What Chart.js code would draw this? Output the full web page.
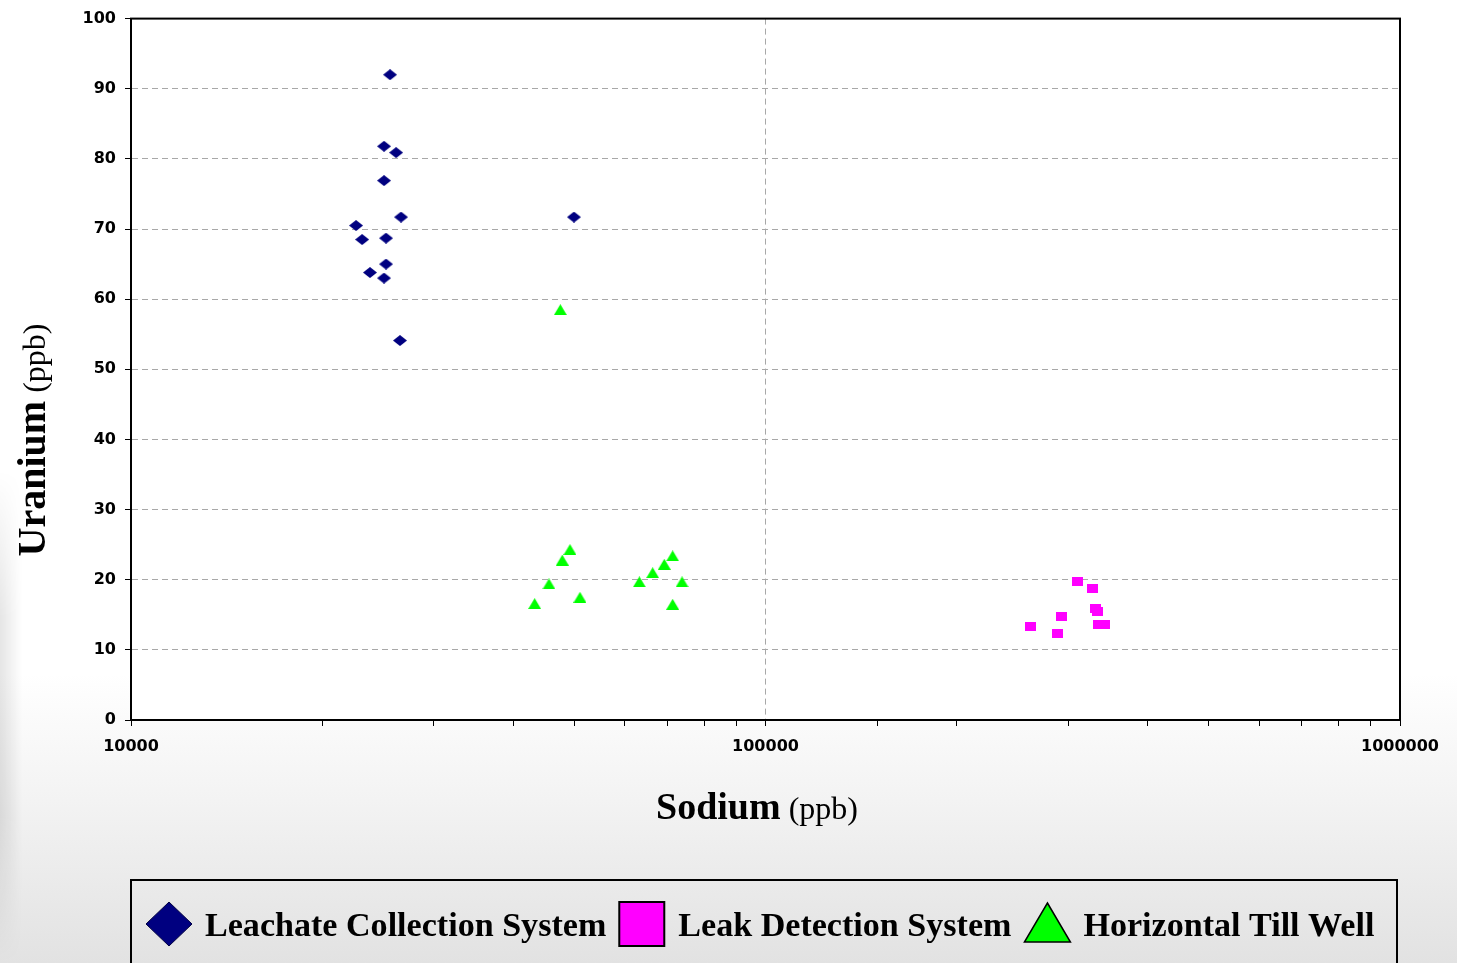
<!DOCTYPE html>
<html>
<head>
<meta charset="utf-8">
<script src="https://cdn.jsdelivr.net/npm/chart.js@4.4.1/dist/chart.umd.min.js"></script>
<style>
    html, body {
        margin: 0;
        padding: 0;
        overflow: hidden;
    }
    body {
        width: 1457px;
        height: 963px;
        background: linear-gradient(to bottom, #ffffff 0%, #ffffff 70%, #f4f4f4 82%, #e2e2e2 100%);
        position: relative;
    }
    .sombra {
        position: absolute;
        left: 0;
        top: 470px;
        width: 22px;
        height: 493px;
        background: linear-gradient(to right, rgba(0, 0, 0, 0.10), rgba(0, 0, 0, 0));
        -webkit-mask-image: linear-gradient(to bottom, transparent, black 30%, black 70%, transparent);
        mask-image: linear-gradient(to bottom, transparent, black 30%, black 70%, transparent);
    }
    .contenedor {
        position: absolute;
        left: 0;
        top: 0;
        width: 1457px;
        height: 963px;
    }
</style>
</head>
<body>
<div class="sombra"></div>
<div class="contenedor"><canvas id="myChart"></canvas></div>
<script>
// datos
const series = ['Leachate Collection System', 'Leak Detection System', 'Horizontal Till Well'];

const sodioLixiviado = [25600, 25050, 26170, 25050, 26640, 22630, 23130, 25230, 25230, 23800, 25050, 26540, 49900];
const uranioLixiviado = [92.0, 81.8, 80.9, 76.9, 71.7, 70.5, 68.5, 68.7, 65.0, 63.8, 63.0, 54.1, 71.7];

const sodioFugas = [310000, 328200, 293000, 261500, 288700, 331000, 333400, 334600, 342500];
const uranioFugas = [19.8, 18.7, 14.8, 13.3, 12.4, 15.9, 15.5, 13.6, 13.6];

const sodioPozo = [47500, 49190, 47830, 45580, 43270, 51000, 63260, 66400, 69260, 71400, 73860, 71400];
const uranioPozo = [58.5, 24.3, 22.8, 19.4, 16.6, 17.5, 19.7, 21.0, 22.2, 23.4, 19.7, 16.5];

const etiquetasX = [10000, 100000, 1000000];
const etiquetasY = [0, 10, 20, 30, 40, 50, 60, 70, 80, 90, 100];

const colores = ['#000080', '#ff00ff', '#00ff00'];

//función principal al iniciar
document.addEventListener('DOMContentLoaded', function () {
    grafica();
});

function puntos(xs, ys) {
    const lista = [];
    xs.forEach((x, i) => {
        lista.push({ x: x, y: ys[i] });
    });
    return lista;
}

// marcadores como canvas pequeños
function marcador(tipo, w, h, borde) {
    const c = document.createElement('canvas');
    c.width = w;
    c.height = h;
    const g = c.getContext('2d');
    g.beginPath();
    if (tipo === 'rombo') {
        g.moveTo(w / 2, 0);
        g.lineTo(w, h / 2);
        g.lineTo(w / 2, h);
        g.lineTo(0, h / 2);
        g.fillStyle = colores[0];
    } else if (tipo === 'cuadro') {
        g.rect(0, 0, w, h);
        g.fillStyle = colores[1];
    } else {
        g.moveTo(w / 2, 0);
        g.lineTo(w, h);
        g.lineTo(0, h);
        g.fillStyle = colores[2];
    }
    g.closePath();
    g.fill();
    if (borde) {
        g.lineWidth = 1;
        g.strokeStyle = borde;
        g.stroke();
    }
    return c;
}

function esPotencia(v) {
    const l = Math.log10(v);
    return Math.abs(l - Math.round(l)) < 1e-6;
}

// marco, titulos y leyenda
const extras = {
    id: 'extras',
    beforeDraw(chart) {
        const { ctx, chartArea } = chart;
        ctx.save();
        ctx.fillStyle = '#ffffff';
        ctx.fillRect(chartArea.left, chartArea.top, chartArea.right - chartArea.left, chartArea.bottom - chartArea.top);
        ctx.restore();
    },
    afterDraw(chart) {
        const { ctx, chartArea } = chart;
        ctx.save();

        // marco del area
        ctx.strokeStyle = '#000';
        ctx.lineWidth = 2;
        ctx.strokeRect(chartArea.left, chartArea.top, chartArea.right - chartArea.left, chartArea.bottom - chartArea.top);

        // titulo eje X
        ctx.fillStyle = '#000';
        ctx.textBaseline = 'alphabetic';
        ctx.textAlign = 'left';
        let f1 = 'bold 38px "Liberation Serif", "Times New Roman", serif';
        let f2 = '32px "Liberation Serif", "Times New Roman", serif';
        ctx.font = f1;
        let a = ctx.measureText('Sodium').width;
        ctx.font = f2;
        let b = ctx.measureText(' (ppb)').width;
        let x0 = 757 - (a + b) / 2;
        ctx.font = f1;
        ctx.fillText('Sodium', x0, 819);
        ctx.font = f2;
        ctx.fillText(' (ppb)', x0 + a, 819);

        // titulo eje Y
        ctx.save();
        ctx.translate(45, 440);
        ctx.rotate(-Math.PI / 2);
        f1 = 'bold 40px "Liberation Serif", "Times New Roman", serif';
        ctx.font = f1;
        a = ctx.measureText('Uranium').width;
        ctx.font = f2;
        b = ctx.measureText(' (ppb)').width;
        x0 = -(a + b) / 2;
        ctx.font = f1;
        ctx.fillText('Uranium', x0, 0);
        ctx.font = f2;
        ctx.fillText(' (ppb)', x0 + a, 0);
        ctx.restore();

        // leyenda
        ctx.strokeStyle = '#000';
        ctx.lineWidth = 2;
        ctx.strokeRect(131, 880, 1266, 110);

        ctx.font = 'bold 34.1px "Liberation Serif", "Times New Roman", serif';
        const cy = 924;
        let x = 146;
        series.forEach((nombre, i) => {
            ctx.beginPath();
            if (i === 0) {
                ctx.moveTo(x + 23, cy - 22);
                ctx.lineTo(x + 46, cy);
                ctx.lineTo(x + 23, cy + 22);
                ctx.lineTo(x, cy);
                ctx.closePath();
                ctx.fillStyle = colores[0];
                ctx.fill();
                ctx.lineWidth = 1;
                ctx.strokeStyle = '#000040';
                ctx.stroke();
            } else if (i === 1) {
                ctx.rect(x, cy - 22, 45, 44);
                ctx.fillStyle = colores[1];
                ctx.fill();
                ctx.lineWidth = 2;
                ctx.strokeStyle = '#000';
                ctx.stroke();
            } else {
                ctx.moveTo(x + 23, cy - 21);
                ctx.lineTo(x + 46, cy + 18);
                ctx.lineTo(x, cy + 18);
                ctx.closePath();
                ctx.fillStyle = colores[2];
                ctx.fill();
                ctx.lineWidth = 1.5;
                ctx.strokeStyle = '#000';
                ctx.stroke();
            }
            ctx.fillStyle = '#000';
            ctx.fillText(nombre, x + 59, 936);
            x += 59 + ctx.measureText(nombre).width + 13;
        });

        ctx.restore();
    }
};

function grafica() {
    const fuenteEjes = { family: '"DejaVu Sans", Arial, sans-serif', size: 16, weight: 'bold' };

    const data = {
        datasets: [{
            label: series[0],
            data: puntos(sodioLixiviado, uranioLixiviado),
            pointStyle: marcador('rombo', 14, 11),
            backgroundColor: colores[0]
        }, {
            label: series[1],
            data: puntos(sodioFugas, uranioFugas),
            pointStyle: marcador('cuadro', 11, 9),
            backgroundColor: colores[1]
        }, {
            label: series[2],
            data: puntos(sodioPozo, uranioPozo),
            pointStyle: marcador('triangulo', 13, 11),
            backgroundColor: colores[2]
        }]
    };

    // Configuración del gráfico
    const config = {
        type: 'scatter',
        data: data,
        options: {
            responsive: true,
            maintainAspectRatio: false,
            animation: false,
            layout: {
                padding: { top: 17, right: 57, left: 0, bottom: 0 }
            },
            plugins: {
                legend: { display: false },
                tooltip: { enabled: false }
            },
            scales: {
                x: {
                    type: 'logarithmic',
                    min: etiquetasX[0],
                    max: etiquetasX[etiquetasX.length - 1],
                    afterFit: function (scale) { scale.height = 243; },
                    border: { color: '#000', width: 2, dash: [6, 4] },
                    grid: {
                        color: c => (c.tick && c.tick.value === etiquetasX[1]) ? '#a8a8a8' : 'rgba(0,0,0,0)',
                        tickColor: '#000',
                        tickLength: 6,
                        lineWidth: 1
                    },
                    ticks: {
                        autoSkip: false,
                        maxRotation: 0,
                        padding: 11,
                        color: '#000',
                        font: fuenteEjes,
                        callback: function (v) {
                            return (esPotencia(v) && etiquetasX.includes(Math.round(v))) ? String(Math.round(v)) : '';
                        }
                    }
                },
                y: {
                    min: etiquetasY[0],
                    max: etiquetasY[etiquetasY.length - 1],
                    afterFit: function (scale) { scale.width = 131; },
                    border: { color: '#000', width: 2, dash: [6, 4] },
                    grid: {
                        color: c => (c.tick && (c.tick.value === 0 || c.tick.value === 100)) ? 'rgba(0,0,0,0)' : '#a8a8a8',
                        tickColor: '#000',
                        tickLength: 6,
                        lineWidth: 1
                    },
                    ticks: {
                        stepSize: 10,
                        padding: 9,
                        color: '#000',
                        font: fuenteEjes
                    },
                    afterBuildTicks: function (scale) {
                        scale.ticks = etiquetasY.map(v => ({ value: v }));
                    }
                }
            }
        },
        plugins: [extras]
    };

    // Renderizar el gráfico en el canvas
    const ctx = document.getElementById('myChart').getContext('2d');
    new Chart(ctx, config);
}
</script>
</body>
</html>
